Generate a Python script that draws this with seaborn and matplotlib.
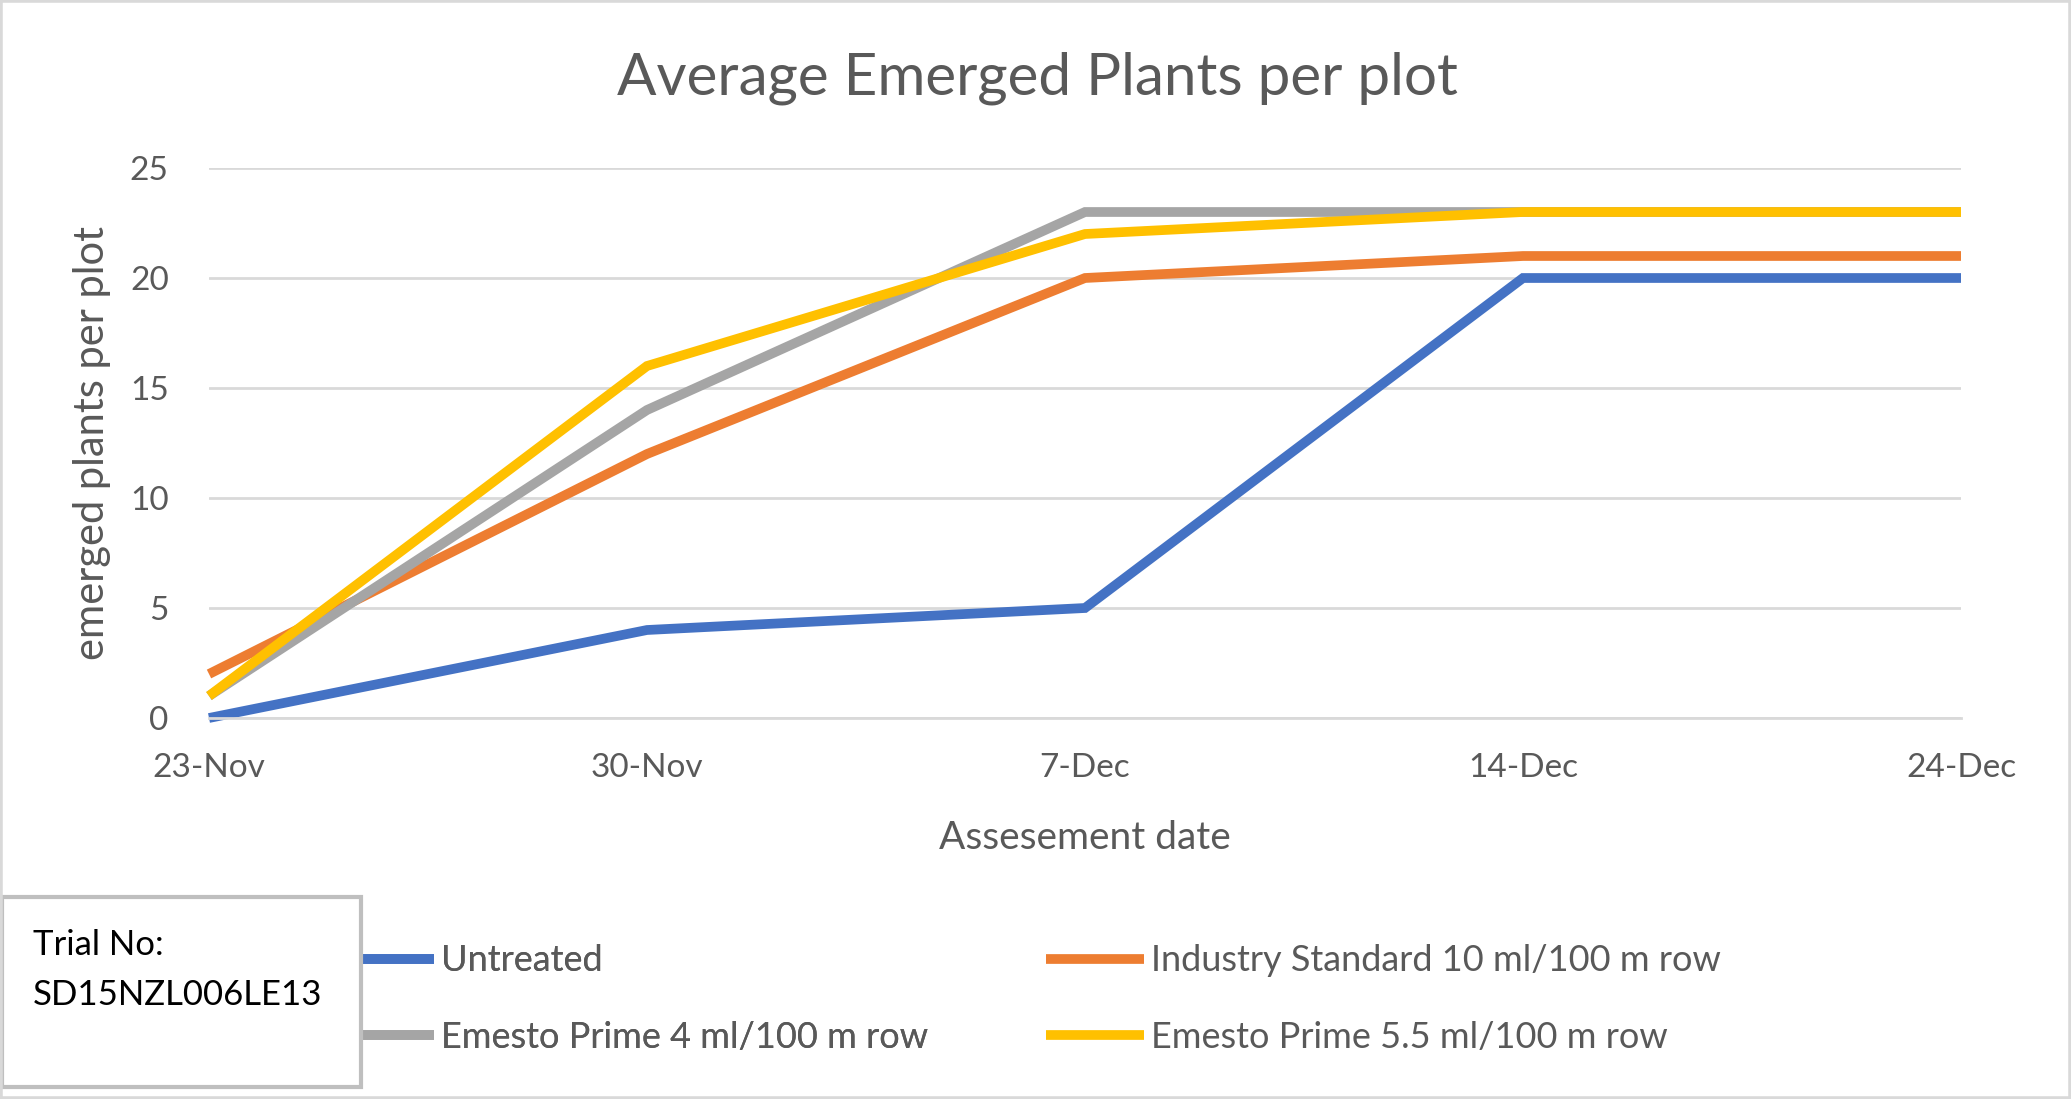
"""Average emerged plants per plot, trial SD15NZL006LE13."""

import matplotlib

matplotlib.use("Agg")
import matplotlib.pyplot as plt
import pandas as pd
import seaborn as sns
from matplotlib.patches import Rectangle

# data
dates = ["23-Nov", "30-Nov", "7-Dec", "14-Dec", "24-Dec"]
untreated = [0, 4, 5, 20, 20]
industry_std = [2, 12, 20, 21, 21]
emesto_4 = [1, 14, 23, 23, 23]
emesto_55 = [1, 16, 22, 23, 23]

series_names = [
    "Untreated",
    "Industry Standard 10 ml/100 m row",
    "Emesto Prime 4 ml/100 m row",
    "Emesto Prime 5.5 ml/100 m row",
]
yticks = [0, 5, 10, 15, 20, 25]

COLORS = ["#4472C4", "#ED7D31", "#A5A5A5", "#FFC000"]
TEXT = "#595959"
GRID = "#D9D9D9"

sns.set_theme(style="white")
plt.rcParams["font.family"] = ["Lato", "DejaVu Sans"]

frames = []
for name, vals in zip(series_names, [untreated, industry_std, emesto_4, emesto_55]):
    frames.append(pd.DataFrame({"date": dates, "plants": vals, "series": name}))
df = pd.concat(frames, ignore_index=True)

W, H = 2071, 1099
fig = plt.figure(figsize=(W / 100, H / 100), dpi=100)
ax = fig.add_axes([209 / W, 381 / H, (1961 - 209) / W, 550 / H])

sns.lineplot(
    data=df, x="date", y="plants", hue="series", hue_order=series_names,
    palette=COLORS, linewidth=7, ax=ax, legend=False, sort=False,
)
for line in ax.lines:
    line.set_solid_capstyle("butt")
    line.set_solid_joinstyle("miter")
    line.set_clip_on(False)

ax.set_xlim(0, len(dates) - 1)
ax.set_ylim(0, 25)
ax.set_yticks(yticks)
ax.yaxis.grid(True, color=GRID, linewidth=2)
ax.set_axisbelow(True)
for side in ["top", "right", "left"]:
    ax.spines[side].set_visible(False)
ax.spines["bottom"].set_color(GRID)
ax.spines["bottom"].set_linewidth(2)
ax.tick_params(axis="both", length=0, labelsize=24, labelcolor=TEXT)
ax.tick_params(axis="x", pad=25)
ax.tick_params(axis="y", pad=29)

ax.set_xlabel("Assesement date", fontsize=28, color=TEXT)
ax.xaxis.set_label_coords(0.5, -(838 - 718) / 550)
ax.xaxis.label.set_verticalalignment("center")
ax.set_ylabel("emerged plants per plot", fontsize=30, color=TEXT)
ax.yaxis.set_label_coords(-(209 - 92) / 1752, 0.5)
ax.yaxis.label.set_verticalalignment("center")
fig.text(1037 / W, 1 - 78 / H, "Average Emerged Plants per plot",
         fontsize=42, color=TEXT, ha="center", va="center")

# legend: two columns placed side by side
handles = ax.lines[:4]
leg_kw = dict(
    loc="center left", frameon=False, fontsize=26, labelcolor=TEXT,
    handlelength=2.7, handletextpad=0.2, labelspacing=1.2,
    borderaxespad=0, borderpad=0,
)
leg1 = fig.legend([handles[0], handles[2]], [series_names[0], series_names[2]],
                  bbox_to_anchor=(336 / W, 1 - 999 / H), **leg_kw)
fig.legend([handles[1], handles[3]], [series_names[1], series_names[3]],
           bbox_to_anchor=(1046 / W, 1 - 999 / H), **leg_kw)
fig.add_artist(leg1)

# trial number text box, drawn over the first legend column
fig.patches.append(Rectangle((2 / W, 1 - 1087 / H), 359 / W, 190 / H,
                             transform=fig.transFigure, facecolor="white",
                             edgecolor="#BFBFBF", linewidth=3, zorder=8))
fig.text(33 / W, 1 - 945 / H, "Trial No:", fontsize=25, color="black",
         va="center", zorder=9)
fig.text(33 / W, 1 - 995 / H, "SD15NZL006LE13", fontsize=25, color="black",
         va="center", zorder=9)

# chart area border
fig.patches.append(Rectangle((0, 0), 1, 1, transform=fig.transFigure,
                             fill=False, edgecolor=GRID, linewidth=4, zorder=9))

fig.savefig("out.png", dpi=100)
